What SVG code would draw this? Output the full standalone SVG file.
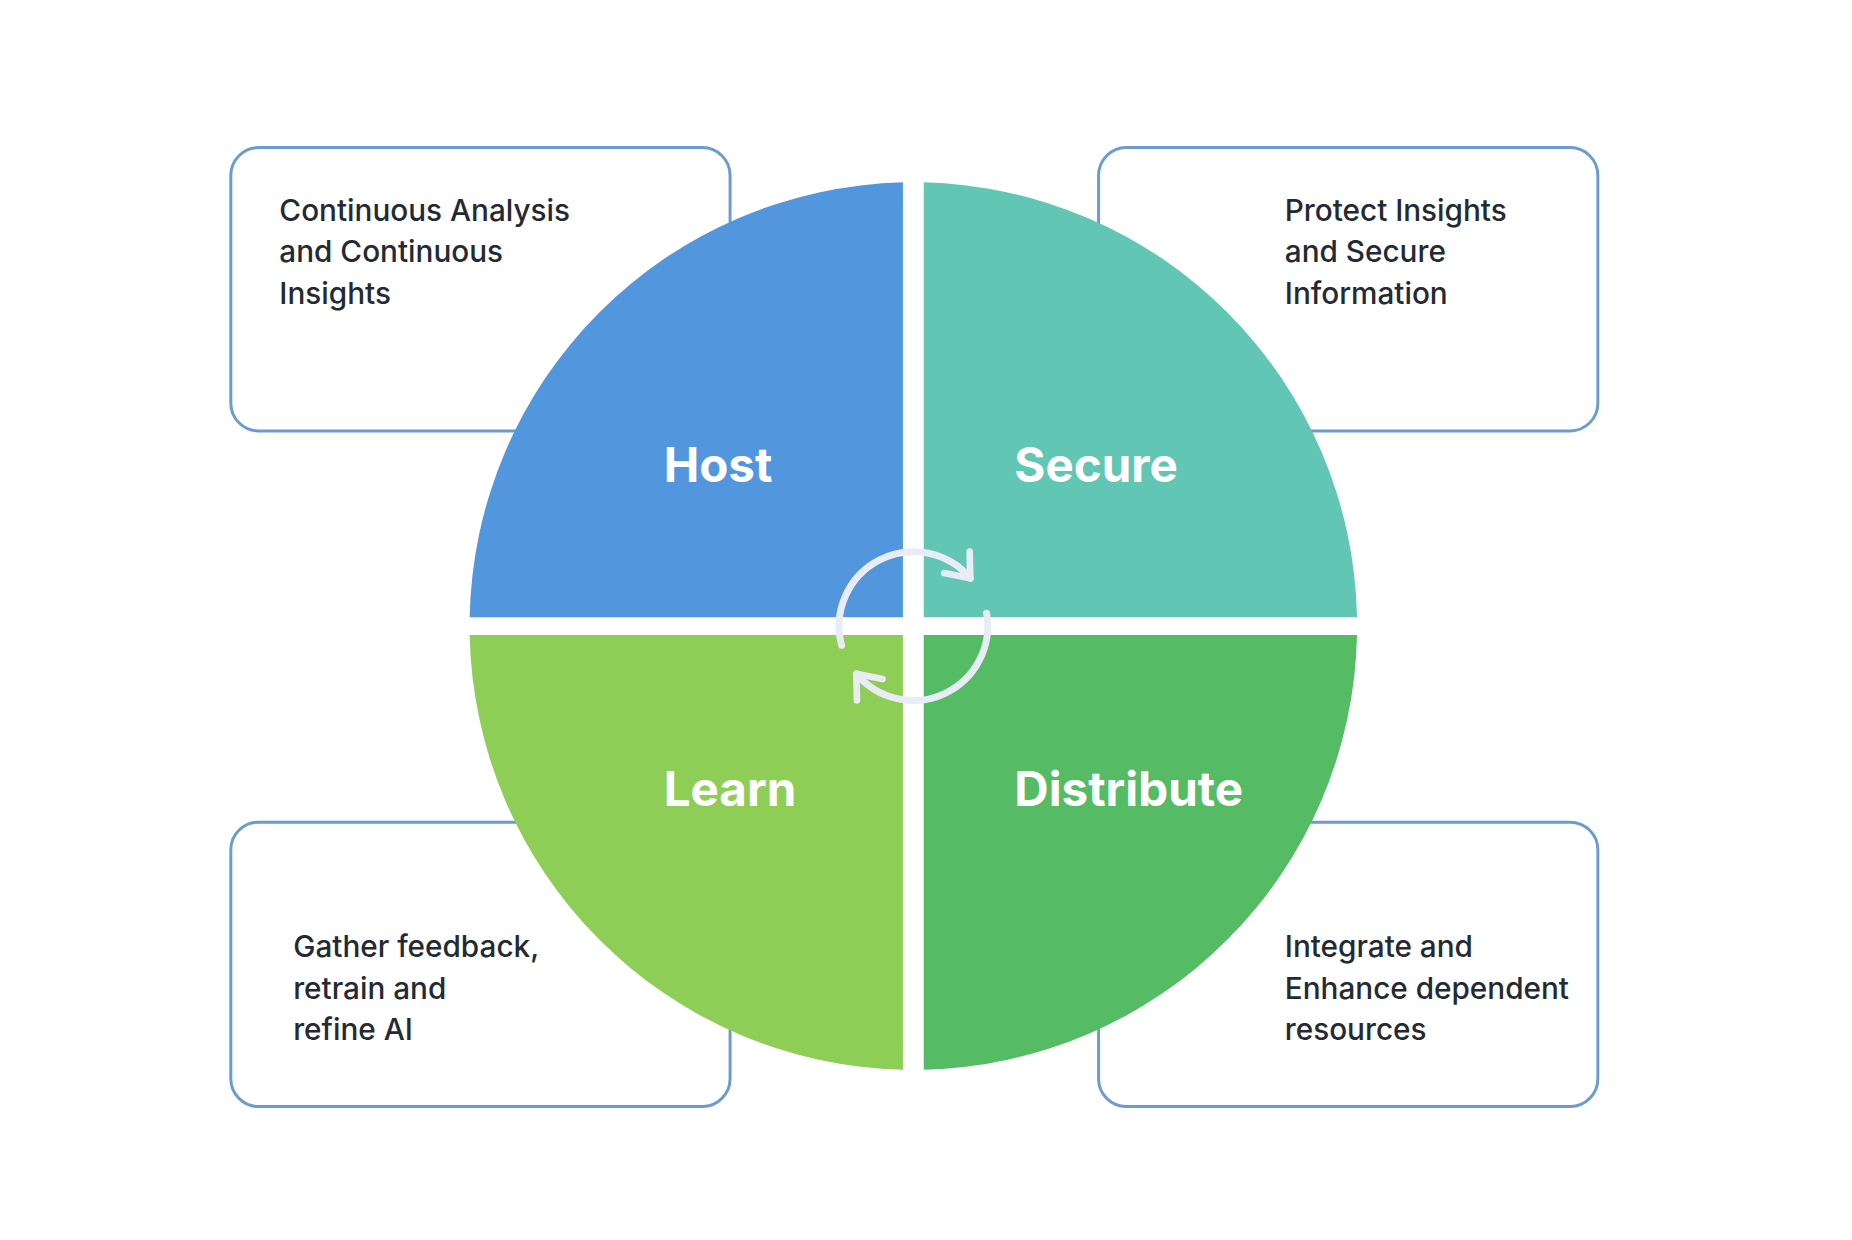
<svg xmlns="http://www.w3.org/2000/svg" width="1852" height="1240" viewBox="0 0 1852 1240">
<defs>
<style>
.box{fill:#fff;stroke:#6A9BD1;stroke-width:3}
.t{font-family:Inter,"Noto Sans",sans-serif;font-size:30px;font-weight:500;fill:#232a33}
.lbl{font-family:Inter,"Noto Sans",sans-serif;font-size:48px;font-weight:700;fill:#fff}
.cyc{fill:none;stroke:#E9ECF5;stroke-width:7;stroke-linecap:round}
</style>
<marker id="ah" viewBox="0 0 10 10" refX="6" refY="5" markerWidth="6" markerHeight="6" orient="auto" markerUnits="strokeWidth">
<polyline points="1,1 6,5 1,9" fill="none" stroke="#E9ECF5" stroke-width="1.6" stroke-linecap="round" stroke-linejoin="round"/>
</marker>
</defs>
<rect width="1852" height="1240" fill="#fff"/>
<g transform="scale(0.9906)">
<g id="box-host"><rect class="box" x="233" y="149" width="504" height="286" rx="28"/>
<text class="t" x="282" y="223">Continuous Analysis</text><text class="t" x="282" y="265">and Continuous</text><text class="t" x="282" y="307">Insights</text></g>
<g id="box-secure"><rect class="box" x="1109" y="149" width="504" height="286" rx="28"/>
<text class="t" x="1297" y="223">Protect Insights</text><text class="t" x="1297" y="265">and Secure</text><text class="t" x="1297" y="307">Information</text></g>
<g id="box-learn"><rect class="box" x="233" y="830" width="504" height="287" rx="28"/>
<text class="t" x="296" y="966">Gather feedback,</text><text class="t" x="296" y="1008">retrain and</text><text class="t" x="296" y="1050">refine AI</text></g>
<g id="box-distribute"><rect class="box" x="1109" y="830" width="504" height="287" rx="28"/>
<text class="t" x="1297" y="966">Integrate and</text><text class="t" x="1297" y="1008">Enhance dependent</text><text class="t" x="1297" y="1050">resources</text></g>
<g id="host"><path d="M911.5,623 L474.1,623 A448,448 0 0 1 911.5,184.1 Z" fill="#5296DE"/><text class="lbl" x="670" y="487">Host</text></g>
<g id="secure"><path d="M932.5,623 L932.5,184.1 A448,448 0 0 1 1369.9,623 Z" fill="#62C6B4"/><text class="lbl" x="1024" y="487">Secure</text></g>
<g id="distribute"><path d="M932.5,641 L1369.9,641 A448,448 0 0 1 932.5,1079.9 Z" fill="#56BB65"/><text class="lbl" x="1024" y="814">Distribute</text></g>
<g id="learn"><path d="M911.5,641 L911.5,1079.9 A448,448 0 0 1 474.1,641 Z" fill="#8FCE56"/><text class="lbl" x="670" y="814">Learn</text></g>
<g id="connectors">
<path class="cyc" d="M849.6,651.4 A75,75 0 0 1 979.5,583.8" marker-end="url(#ah)"/>
<path class="cyc" d="M995.9,619 A75,75 0 0 1 864.5,680.2" marker-end="url(#ah)"/>
</g>
</g>
</svg>
